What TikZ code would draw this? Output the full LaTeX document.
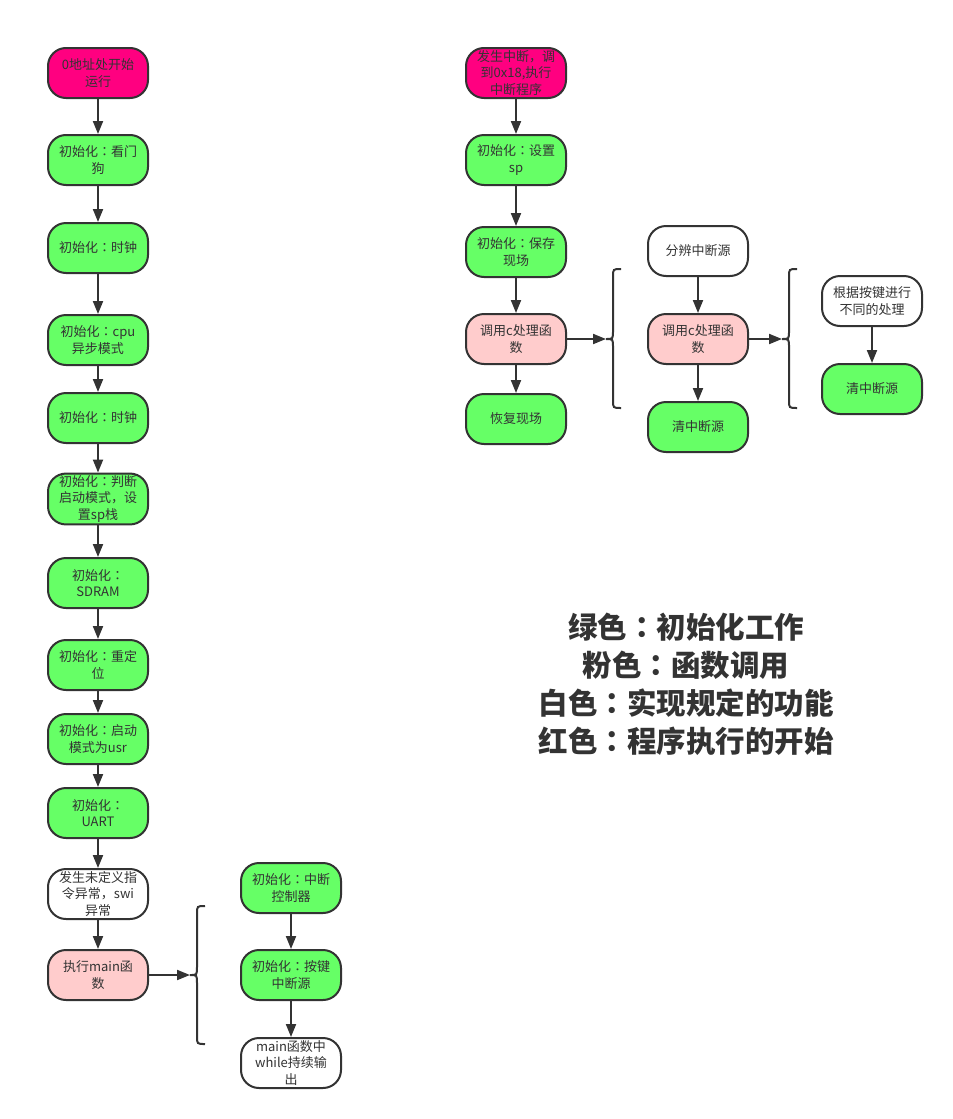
\documentclass[tikz,border=0pt]{standalone}
\usepackage{fontspec}
\setmainfont{Noto Sans CJK SC}
\newfontfamily\tcpunct{Noto Sans CJK TC}
\newcommand\zc{{\tcpunct ：}}
\usetikzlibrary{arrows.meta}
\definecolor{ink}{RGB}{51,51,51}
\definecolor{start}{RGB}{255,0,128}
\definecolor{init}{RGB}{102,255,102}
\definecolor{call}{RGB}{255,204,204}
\tikzset{
  every picture/.style={color=ink, line width=2pt, x=1pt, y=-1pt},
  box/.style={draw=ink, rounded corners=18pt, fill=white, minimum width=100pt, minimum height=50pt, inner sep=2pt, align=center, text=ink, font=\fontsize{13}{16.5}\selectfont},
  first/.style={box, fill=start},
  setup/.style={box, fill=init},
  func/.style={box, fill=call},
  job/.style={box},
  flow/.style={-{Triangle[length=13pt,width=10pt]}, line width=2pt},
  key/.style={font=\fontsize{29.5}{38}\selectfont\bfseries, align=center, text=ink},
}

\begin{document}
\begin{tikzpicture}
  \useasboundingbox (0,0) rectangle (953,1119);
  % main program, from reset down to main()
  \node[first] (boot) at (98,73) {0地址处开始\\运行};
  \node[setup] (dog) at (98,160) {初始化\zc 看门\\狗};
  \node[setup] (clk) at (98,248) {初始化\zc 时钟};
  \node[setup] (cpu) at (98,340) {初始化\zc cpu\\异步模式};
  \node[setup] (clkb) at (98,418) {初始化\zc 时钟};
  \node[setup] (mode) at (98,499) {初始化\zc 判断\\启动模式，设\\置sp栈};
  \node[setup] (sdram) at (98,583) {初始化\zc\\SDRAM};
  \node[setup] (reloc) at (98,665) {初始化\zc 重定\\位};
  \node[setup] (usr) at (98,739) {初始化\zc 启动\\模式为usr};
  \node[setup] (uart) at (98,813) {初始化\zc\\UART};
  \node[job] (undef) at (98,894) {发生未定义指\\令异常，swi\\异常};
  \node[func] (main) at (98,975) {执行main函\\数};
  \foreach \a/\b in {boot/dog,dog/clk,clk/cpu,cpu/clkb,clkb/mode,mode/sdram,sdram/reloc,reloc/usr,usr/uart,uart/undef,undef/main} { \draw[flow] (\a) -- (\b); }
  % inside main()
  \node[setup] (intc) at (291,888) {初始化\zc 中断\\控制器};
  \node[setup] (keyint) at (291,975) {初始化\zc 按键\\中断源};
  \node[job] (loop) at (291,1063) {main函数中\\while持续输\\出};
  \draw[flow] (intc) -- (keyint);
  \draw[flow] (keyint) -- (loop);
  % interrupt path
  \node[first] (irq) at (516,73) {发生中断，调\\到0x18,执行\\中断程序};
  \node[setup] (sp) at (516,160) {初始化\zc 设置\\sp};
  \node[setup] (save) at (516,252) {初始化\zc 保存\\现场};
  \node[func] (chandler) at (516,339) {调用c处理函\\数};
  \node[setup] (restore) at (516,419) {恢复现场};
  \foreach \a/\b in {irq/sp,sp/save,save/chandler,chandler/restore} { \draw[flow] (\a) -- (\b); }
  \node[job] (which) at (698,251) {分辨中断源};
  \node[func] (chandlerb) at (698,339) {调用c处理函\\数};
  \node[setup] (clear) at (698,427) {清中断源};
  \draw[flow] (which) -- (chandlerb);
  \draw[flow] (chandlerb) -- (clear);
  \node[job] (keys) at (872,301) {根据按键进行\\不同的处理};
  \node[setup] (clearb) at (872,389) {清中断源};
  \draw[flow] (keys) -- (clearb);
  % braces
  \foreach \i/\x/\t/\m/\b in {1/197/906/975/1044, 2/613/269/339/408, 3/789/269/339/408} {
    \draw ({\x+8},\t) .. controls (\x,\t) .. (\x,{\t+8}) -- (\x,{\m-8}) .. controls (\x,\m) .. ({\x-7},\m)
      .. controls (\x,\m) .. (\x,{\m+8}) -- (\x,{\b-8}) .. controls (\x,\b) .. ({\x+8},\b);
    \coordinate (tip\i) at ({\x-7},\m);
  }
  \draw[flow] (main) -- (tip1);
  \draw[flow] (chandler) -- (tip2);
  \draw[flow] (chandlerb) -- (tip3);
  % legend
  \node[key] (legend) at (686,684) {绿色\zc 初始化工作\\粉色\zc 函数调用\\白色\zc 实现规定的功能\\红色\zc 程序执行的开始};
\end{tikzpicture}
\end{document}
